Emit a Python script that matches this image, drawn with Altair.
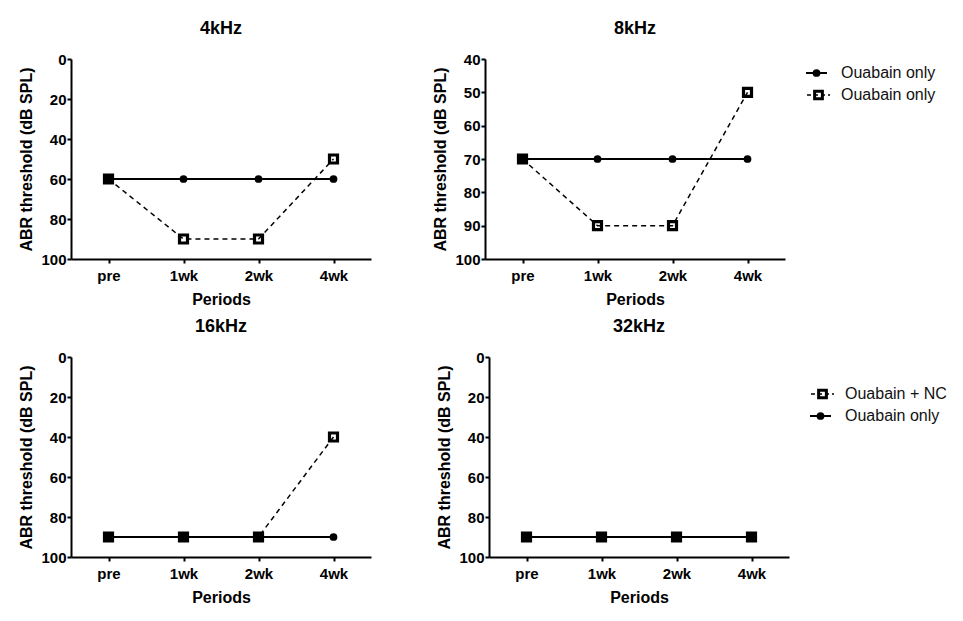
import altair as alt
import pandas as pd

# ---------------- data ----------------
periods = ["pre", "1wk", "2wk", "4wk"]

only_4k = [60, 60, 60, 60]
nc_4k = [60, 90, 90, 50]

only_8k = [70, 70, 70, 70]
nc_8k = [70, 90, 90, 50]

only_16k = [90, 90, 90, 90]
nc_16k = [90, 90, 90, 40]

only_32k = [90, 90, 90, 90]
nc_32k = [90, 90, 90, 90]

legend_8k_labels = ["Ouabain only", "Ouabain only"]
legend_8k_series = ["only", "nc"]
legend_32k_labels = ["Ouabain + NC", "Ouabain only"]
legend_32k_series = ["nc", "only"]

FONT = "Liberation Sans"
BLACK = "#000000"


def make_df(only, nc):
    rows = []
    for p, v in zip(periods, only):
        rows.append({"period": p, "series": "only", "value": v})
    for p, v in zip(periods, nc):
        rows.append({"period": p, "series": "nc", "value": v})
    return pd.DataFrame(rows)


def legend_layer(labels, series, top_px, plot_h):
    ldf = pd.DataFrame({"label": labels, "series": series, "rank": list(range(len(labels)))})
    row_px = 22.0
    d0 = -top_px / row_px
    d1 = d0 + plot_h / row_px
    ly = alt.Y("rank:Q", scale=alt.Scale(domain=[d0, d1], reverse=True, nice=False, zero=False), axis=None)
    lb = alt.Chart(ldf).encode(y=ly)
    only_f = "datum.series == 'only'"
    nc_f = "datum.series == 'nc'"
    r_only = lb.transform_filter(only_f).mark_rule(color=BLACK, strokeWidth=2).encode(
        x=alt.value(321), x2=alt.value(342))
    r_nc = lb.transform_filter(nc_f).mark_rule(color=BLACK, strokeWidth=1.5, strokeDash=[4, 3]).encode(
        x=alt.value(322), x2=alt.value(345))
    c_only = lb.transform_filter(only_f).mark_point(
        shape="circle", filled=True, color=BLACK, size=60, opacity=1).encode(x=alt.value(331.5))
    s_nc = lb.transform_filter(nc_f).mark_point(
        shape="square", filled=False, color=BLACK, strokeWidth=3, size=60, opacity=1).encode(x=alt.value(333.5))
    txt = lb.mark_text(align="left", baseline="middle", fontSize=16, font=FONT, color="#111111").encode(
        x=alt.value(356), text="label:N")
    return alt.layer(r_only, r_nc, c_only, s_nc, txt)


def panel(title, only, nc, ydomain, ystep, legend=None):
    df = make_df(only, nc)
    x = alt.X("period:N", sort=periods,
              scale=alt.Scale(type="point", padding=0.5),
              axis=alt.Axis(title="Periods", labelAngle=0, labelPadding=5, titlePadding=8))
    y = alt.Y("value:Q",
              scale=alt.Scale(domain=ydomain, reverse=True, nice=False, zero=False),
              axis=alt.Axis(title="ABR threshold (dB SPL)",
                            values=list(range(ydomain[0], ydomain[1] + 1, ystep)),
                            labelPadding=1, titlePadding=6))
    base = alt.Chart(df).encode(x=x, y=y)
    only_f = "datum.series == 'only'"
    nc_f = "datum.series == 'nc'"
    nc_line = base.transform_filter(nc_f).mark_line(color=BLACK, strokeWidth=1.5, strokeDash=[5, 4])
    only_line = base.transform_filter(only_f).mark_line(color=BLACK, strokeWidth=2)
    circles = base.transform_filter(only_f).mark_point(
        shape="circle", filled=True, color=BLACK, size=60, opacity=1)
    squares = base.transform_filter(nc_f).mark_point(
        shape="square", filled=False, color=BLACK, strokeWidth=3.2, size=64, opacity=1)
    data_layer = alt.layer(nc_line, only_line, circles, squares)
    if legend is not None:
        chart = alt.layer(data_layer, legend).resolve_scale(y="independent")
    else:
        chart = data_layer
    return chart.properties(
        width=300, height=200,
        title=alt.TitleParams(title, font=FONT, fontSize=18, fontWeight="bold", color=BLACK,
                              anchor="middle", frame="group", offset=14))


p1 = panel("4kHz", only_4k, nc_4k, [0, 100], 20)
p2 = panel("8kHz", only_8k, nc_8k, [40, 100], 10,
           legend=legend_layer(legend_8k_labels, legend_8k_series, 14, 200))
p3 = panel("16kHz", only_16k, nc_16k, [0, 100], 20)
p4 = panel("32kHz", only_32k, nc_32k, [0, 100], 20,
           legend=legend_layer(legend_32k_labels, legend_32k_series, 37, 200))

row1 = alt.hconcat(p1, p2, spacing=61)
row2 = alt.hconcat(p3, p4, spacing=65)

chart = alt.vconcat(row1, row2, spacing=11).properties(
    padding={"left": 10, "top": 12, "right": 5, "bottom": 5}
).configure_axis(
    domainColor=BLACK, domainWidth=2, tickColor=BLACK, tickWidth=2, tickSize=4,
    labelFont=FONT, labelFontWeight="bold", labelFontSize=15, labelColor=BLACK,
    titleFont=FONT, titleFontWeight="bold", titleFontSize=16, titleColor=BLACK,
    grid=False
).configure_view(stroke=None)

chart.save("out.html", embed_options={"renderer": "svg", "actions": False})
